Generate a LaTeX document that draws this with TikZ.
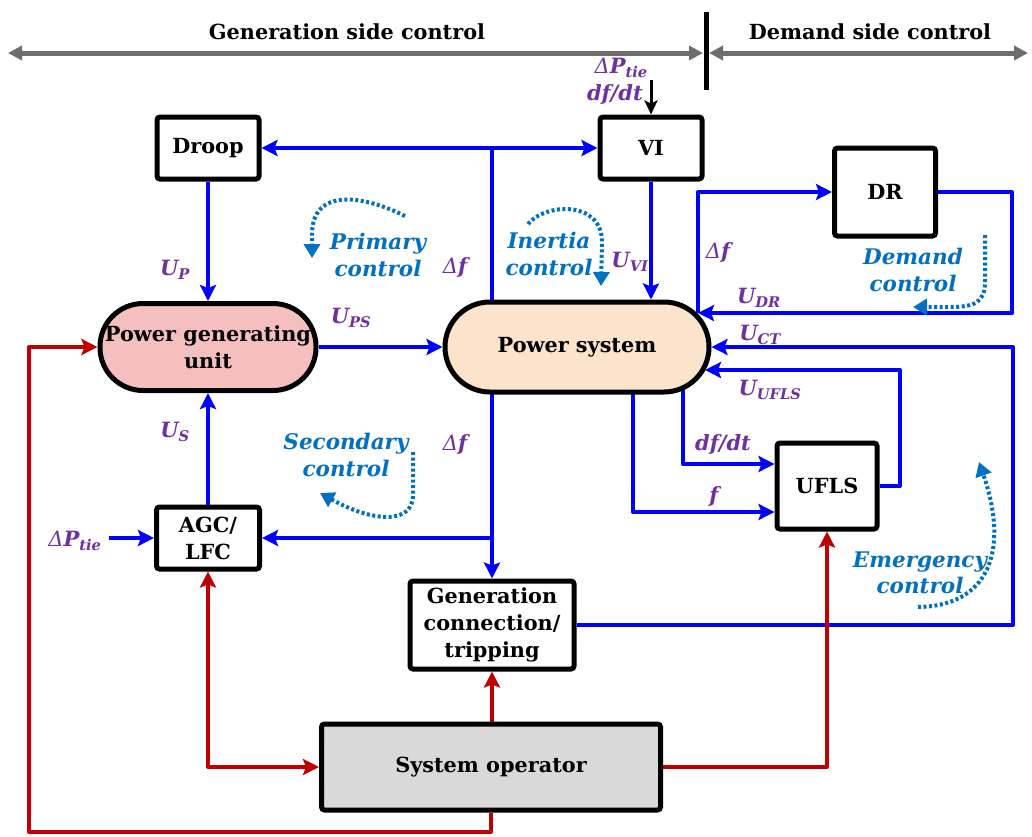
\documentclass[tikz,border=0pt]{standalone}
\usepackage{fontspec}
\setmainfont{DejaVu Serif}
\usetikzlibrary{arrows.meta,backgrounds}

\definecolor{flow}{HTML}{0000FF}
\definecolor{cmd}{HTML}{C00000}
\definecolor{sig}{HTML}{7030A0}
\definecolor{loopc}{HTML}{0070C0}
\definecolor{axisc}{HTML}{6D6D6D}
\definecolor{genfill}{HTML}{F4BFBE}
\definecolor{psfill}{HTML}{FCE4CC}
\definecolor{opfill}{HTML}{D9D9D9}

\newcommand\boxfont{\fontsize{20.8}{27}\selectfont\bfseries}
\newcommand\labfont{\fontsize{21}{24}\selectfont\bfseries\itshape}
\newcommand\ctlfont{\fontsize{21.5}{26.5}\selectfont\bfseries\itshape}
\newcommand\sbs[1]{\textsubscript{#1}}
\newcommand\dlt{{\mdseries Δ}}

\tikzset{
  block/.style={draw=black, line width=5pt, rounded corners=3pt, fill=white,
    inner sep=0pt, align=center, font=\boxfont},
  pill/.style={draw=black, line width=5pt, inner sep=0pt, align=center, font=\boxfont},
  wire/.style={flow, line width=4pt, line join=round},
  cwire/.style={cmd, line width=4pt, line join=round},
  arrowed/.style={-{Stealth[length=16pt,width=16pt,inset=3pt]}},
  arrowedboth/.style={{Stealth[length=16pt,width=16pt,inset=3pt]}-{Stealth[length=16pt,width=16pt,inset=3pt]}},
  dots/.style={loopc, line width=4pt, dash pattern=on 3pt off 2.5pt,
    -{Triangle[length=14pt,width=16pt]}},
  lab/.style={sig, font=\labfont, inner sep=0pt},
  ctl/.style={loopc, font=\ctlfont, align=center, inner sep=0pt},
  axisline/.style={axisc, line width=5pt,
    {Triangle[length=14pt,width=14pt]}-{Triangle[length=14pt,width=14pt]}},
}

\begin{document}
\begin{tikzpicture}[x=1pt,y=-1pt]
\useasboundingbox (0,0) rectangle (1032,836);

% ---- blocks ----
\node[block, minimum width=102pt, minimum height=62pt] (droop) at (208,148) {Droop};
\node[block, minimum width=102pt, minimum height=62pt] (vi) at (651,148) {VI};
\node[block, minimum width=101pt, minimum height=88pt] (dr) at (885,192) {DR};
\node[pill, fill=genfill, rounded corners=43pt, minimum width=216pt, minimum height=87pt]
  (pgu) at (208,347) {Power generating\\unit};
\node[pill, fill=psfill, rounded corners=45pt, minimum width=264pt, minimum height=90pt]
  (ps) at (577,347) {Power system};
\node[block, minimum width=103pt, minimum height=62pt] (agc) at (208,538) {AGC/\\LFC};
\node[block, minimum width=100pt, minimum height=86pt] (ufls) at (827,486) {UFLS};
\node[block, minimum width=164pt, minimum height=88pt] (gct) at (492,625)
  {Generation\\connection/\\tripping};
\node[block, fill=opfill, minimum width=339pt, minimum height=86pt] (sysop) at (491,767)
  {System operator};

% ---- header: scope of generation and demand side control ----
\node[font=\boxfont] (gsc) at (347,32) {Generation side control};
\node[font=\boxfont] (dsc) at (870,32) {Demand side control};
\coordinate (axL) at (8,53);
\coordinate (axM1) at (703,53);
\coordinate (axM2) at (709,53);
\coordinate (axR) at (1028,53);
\draw[axisline] (axL) -- (axM1);
\draw[axisline] (axM2) -- (axR);
\coordinate (barT) at (706,12);
\coordinate (barB) at (706,90);
\draw[line width=5pt] (barT) -- (barB);

% ---- connectors ----
\begin{scope}[on background layer]
  % frequency deviation bus
  \coordinate (busTop) at (492,148);
  \coordinate (busLow) at (492,538);
  \draw[wire] (ps.center -| busTop) -- (busTop);
  \draw[wire,arrowed] (busTop) -- (vi.west);
  \draw[wire,arrowed] (busTop) -- (droop.east);
  \draw[wire,arrowed] (ps.center -| busLow) -- (gct.north);
  \draw[wire,arrowed] (busLow) -- (agc.east);
  % primary / secondary / inertia actions
  \draw[wire,arrowed] (droop.south) -- (pgu.north);
  \draw[wire,arrowed] (agc.north) -- (pgu.south);
  \draw[wire,arrowed] (pgu.east) -- (pgu.east -| ps.west);
  \draw[wire,arrowed] (vi.south) -- (vi.south |- ps.north);
  \coordinate (ptieL) at (109,538);
  \draw[wire,arrowed] (ptieL) -- (agc.west);
  % demand response loop
  \coordinate (psDR) at (698,313);
  \coordinate (drR) at (1012,313);
  \draw[wire,arrowed] (psDR) |- (dr.west);
  \draw[wire,arrowed] (dr.east) -| (drR) -- (psDR);
  % generation connection / tripping
  \coordinate (ctR) at (1013,347);
  \draw[wire,arrowed] (gct.east) -| (ctR) -- (ps.east);
  % under-frequency load shedding
  \coordinate (psUF) at (705,370);
  \coordinate (ufR) at (900,370);
  \draw[wire,arrowed] (ufls.east) -| (ufR) -- (psUF);
  \coordinate (psB1) at (683,360);
  \coordinate (psB2) at (633,360);
  \path (ufls.west) ++(0,-22) coordinate (ufIn1);
  \path (ufls.west) ++(0,26) coordinate (ufIn2);
  \draw[wire,arrowed] (psB1) |- (ufIn1);
  \draw[wire,arrowed] (psB2) |- (ufIn2);
  % system operator commands
  \draw[cwire,arrowed] (gct.south |- sysop.north) -- (gct.south);
  \draw[cwire,arrowedboth] (agc.south) |- (sysop.west);
  \draw[cwire,arrowed] (sysop.east) -| (ufls.south);
  \coordinate (redBL) at (29,832);
  \draw[cwire,arrowed] (sysop.south) |- (redBL) -- (redBL |- pgu.west) -- (pgu.west);
\end{scope}

% external input to VI
\coordinate (viIn) at (651,80);
\draw[black, line width=3pt, -{Stealth[length=14pt,width=13pt,inset=3pt]}] (viIn) -- (vi.north);

% ---- signal labels ----
\node[lab, anchor=east] (lptie1) at (648,68) {\dlt P\sbs{tie}};
\node[lab, anchor=east] (ldfdt1) at (643,95) {df/dt};
\node[lab] (lup) at (175,270) {U\sbs{P}};
\node[lab] (lups) at (351,318) {U\sbs{PS}};
\node[lab] (ldf1) at (455,268) {\dlt f};
\node[lab] (luvi) at (630,262) {U\sbs{VI}};
\node[lab] (ldf2) at (718,253) {\dlt f};
\node[lab] (ludr) at (759,298) {U\sbs{DR}};
\node[lab] (luct) at (760,335) {U\sbs{CT}};
\node[lab] (luufls) at (770,390) {U\sbs{UFLS}};
\node[lab] (ldfdt2) at (723,445) {df/dt};
\node[lab] (lf) at (714,497) {f};
\node[lab] (ldf3) at (455,445) {\dlt f};
\node[lab] (lus) at (175,432) {U\sbs{S}};
\node[lab] (lptie2) at (75,541) {\dlt P\sbs{tie}};

% ---- control loop annotations ----
\node[ctl] (cprim) at (378,255) {Primary\\control};
\node[ctl] (cinert) at (549,254) {Inertia\\control};
\node[ctl] (cdem) at (913,270) {Demand\\control};
\node[ctl] (csec) at (346,455) {Secondary\\control};
\node[ctl] (cemer) at (920,573) {Emergency\\control};

\draw[dots] (405,216) .. controls (365,196) and (312,186) .. (312,235) -- (312,258);
\draw[dots] (528,224) .. controls (545,203) and (602,200) .. (602,242) -- (601,286);
\draw[dots] (985,235) -- (985,282) .. controls (985,302) and (975,307) .. (950,307) -- (913,307);
\draw[dots] (413,452) -- (413,495) .. controls (413,525) and (372,522) .. (320,493);
\draw[dots] (918,607) .. controls (988,606) and (1010,552) .. (979,462);
\end{tikzpicture}
\end{document}
